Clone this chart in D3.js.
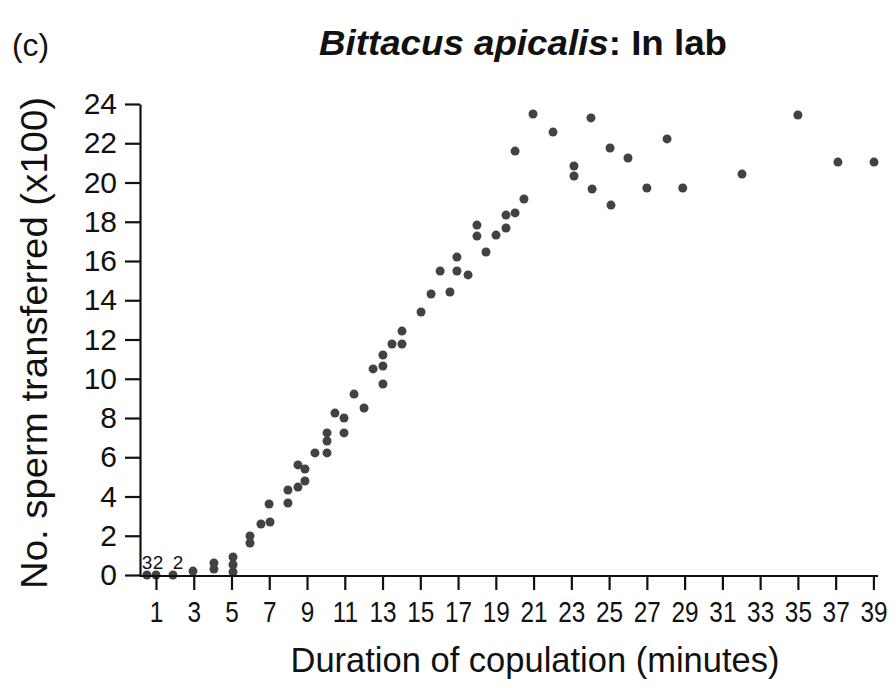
<!DOCTYPE html>
<html lang="en">

<head>
    <meta charset="UTF-8">
    <title>Bittacus apicalis: In lab</title>
    <script src="https://d3js.org/d3.v7.min.js"></script>
    <style>
        body {
            margin: 0;
            background: #fff;
        }

        svg {
            display: block;
            font-family: "Liberation Sans", Arial, Helvetica, sans-serif;
        }

        .axis path,
        .axis line {
            stroke: #111;
            stroke-width: 2.2px;
        }

        .axis text {
            fill: #111;
        }

        .dot {
            fill: #424242;
        }
    </style>
</head>

<body>
    <svg width="896" height="688"></svg>

    <script>
        // Duration (minutes) and sperm transferred (x100)
        const duration = [
            0.52, 1.0, 1.9, 2.96, 4.07, 4.07, 5.08, 5.08, 5.08, 5.98,
            5.98, 6.56, 7.04, 6.99, 7.99, 7.99, 8.52, 8.52, 8.89, 8.89,
            9.42, 10.06, 10.06, 10.06, 10.48, 10.96, 10.96, 11.49, 12.02, 12.5,
            13.02, 13.02, 13.02, 13.5, 14.03, 14.03, 15.04, 15.57, 16.05, 16.57,
            16.94, 16.94, 17.53, 18.48, 18.0, 18.0, 19.01, 19.54, 19.54, 20.02,
            20.49, 20.02, 20.97, 22.03, 23.14, 23.14, 24.04, 24.1, 25.05, 25.1,
            26.0, 27.0, 28.07, 28.9, 32.04, 35.0, 37.12, 39.03
        ];
        const sperm = [
            0, 0, 0, 0.2, 0.3, 0.61, 0.15, 0.52, 0.92, 1.63,
            1.99, 2.6, 2.7, 3.62, 3.67, 4.33, 4.48, 5.61, 5.4, 4.79,
            6.22, 6.22, 6.83, 7.24, 8.25, 8.0, 7.24, 9.22, 8.51, 10.5,
            10.65, 11.21, 9.73, 11.77, 11.77, 12.43, 13.4, 14.32, 15.49, 14.42,
            15.49, 16.2, 15.29, 16.46, 17.27, 17.83, 17.32, 17.68, 18.34, 18.45,
            19.16, 21.6, 23.49, 22.57, 20.84, 20.33, 23.29, 19.67, 21.76, 18.85,
            21.25, 19.72, 22.22, 19.72, 20.43, 23.44, 21.04, 21.04
        ];

        // number of overlapping zero points at the start
        const stackedAt = [0.52, 1.0, 1.9];
        const stackedCount = ["3", "2", "2"];

        const xTicks = d3.range(1, 40, 2);
        const yTicks = d3.range(0, 25, 2);

        const svg = d3.select("svg");

        const x = d3.scaleLinear().domain([0, 40]).range([137.1, 892.3]);
        const y = d3.scaleLinear().domain([0, 24]).range([575, 104]);
        const axisX = 140;

        // points
        svg.selectAll(".dot")
            .data(duration.map((d, i) => [d, sperm[i]]))
            .enter().append("circle")
            .attr("class", "dot")
            .attr("cx", d => x(d[0]))
            .attr("cy", d => y(d[1]))
            .attr("r", 4.5);

        svg.selectAll(".count")
            .data(stackedAt)
            .enter().append("text")
            .attr("class", "count")
            .attr("x", (d, i) => x(d) + (i === 2 ? 5 : i === 1 ? 2 : 0))
            .attr("y", y(0) - 6)
            .attr("text-anchor", "middle")
            .attr("font-size", 19)
            .attr("fill", "#111")
            .text((d, i) => stackedCount[i]);

        // x axis
        const gx = svg.append("g")
            .attr("class", "axis")
            .attr("transform", `translate(0,${y(0) + 1})`)
            .call(d3.axisBottom(x).tickValues(xTicks).tickSize(14).tickPadding(11).tickSizeOuter(0));
        gx.select(".domain").remove();
        gx.append("line")
            .attr("x1", axisX)
            .attr("x2", x(39.25))
            .attr("stroke", "#111");
        gx.selectAll(".tick text")
            .attr("font-size", 29)
            .attr("font-family", null)
            .attr("transform", "scale(0.84,1)");

        // y axis
        const gy = svg.append("g")
            .attr("class", "axis")
            .attr("transform", `translate(${axisX},0)`)
            .call(d3.axisLeft(y).tickValues(yTicks).tickSize(15).tickPadding(8).tickSizeOuter(0));
        gy.selectAll(".tick text")
            .attr("font-size", 30)
            .attr("font-family", null);

        // labels
        svg.append("text")
            .attr("x", 535)
            .attr("y", 672)
            .attr("text-anchor", "middle")
            .attr("font-size", 34.5)
            .attr("fill", "#111")
            .text("Duration of copulation (minutes)");

        svg.append("text")
            .attr("transform", "translate(47,343) rotate(-90)")
            .attr("text-anchor", "middle")
            .attr("font-size", 36)
            .attr("fill", "#111")
            .attr("textLength", 492)
            .attr("lengthAdjust", "spacingAndGlyphs")
            .text("No. sperm transferred (x100)");

        svg.append("text")
            .attr("x", 12)
            .attr("y", 56)
            .attr("font-size", 32)
            .attr("fill", "#111")
            .attr("textLength", 37)
            .attr("lengthAdjust", "spacingAndGlyphs")
            .text("(c)");

        const title = svg.append("text")
            .attr("x", 319)
            .attr("y", 55)
            .attr("font-size", 35)
            .attr("font-weight", "bold")
            .attr("fill", "#111")
            .attr("textLength", 408)
            .attr("lengthAdjust", "spacingAndGlyphs");
        title.append("tspan")
            .attr("font-style", "italic")
            .text("Bittacus apicalis");
        title.append("tspan")
            .text(": In lab");
    </script>
</body>

</html>
